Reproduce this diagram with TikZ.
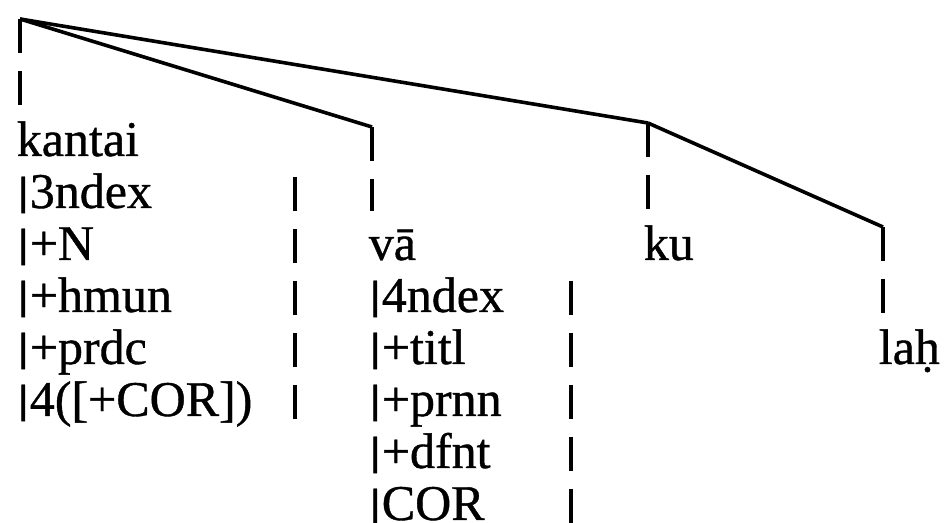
\documentclass[tikz,border=0pt]{standalone}
\usepackage{fontspec}
\setmainfont{Liberation Serif}[FakeBold=0.8]
% bar that opens a feature line, set on the baseline
\newcommand\wbar{\raisebox{0.07em}{\scalebox{1.3}[0.8]{|}}}
\begin{document}
\begin{tikzpicture}[x=0.5pt, y=-0.5pt, line width=1.8pt]

    \tikzset{%
    every word/.style={
        anchor=base west,
        inner sep=0pt,
        font=\fontsize{25}{26}\selectfont
        },
    bar line/.style={
        line width=2pt,
        dash pattern=on 17pt off 9pt
        },
    }

    \useasboundingbox (0,0) rectangle (944,523);

    % Root and the tops of the branches
    \coordinate (root) at (20,19);
    \coordinate (va-top) at (372,127);
    \coordinate (ku-top) at (648,123);
    \coordinate (lah-top) at (883,227);

    % Lower ends of the branch bars
    \coordinate (root-end) at (20,107);
    \coordinate (va-end) at (372,211);
    \coordinate (ku-end) at (648,211);
    \coordinate (lah-end) at (883,315);

    % kantai column
    \foreach \w [count=\y from 0] in {kantai,\wbar 3ndex,\wbar+N,\wbar+hmun,\wbar+prdc,{\wbar 4([+COR])}}
    \node [every word] (kantai-\y) at (15,156+52*\y) {\w};

    % va column
    \foreach \w [count=\y from 2] in {vā,\wbar 4ndex,\wbar+titl,\wbar+prnn,\wbar+dfnt,\wbar COR}
    \node [every word] (va-\y) at (367,156+52*\y) {\w};

    % ku and lah
    \node [every word] (ku) at (642,260) {ku};
    \node [every word] (lah) at (877,364) {laḥ};

    % Branches
    \draw (root) -- (va-top);
    \draw (root) -- (ku-top);
    \draw (ku-top) -- (lah-top);

    % Bars down to the words
    \draw [bar line] (root) -- (root-end);
    \draw [bar line] (va-top) -- (va-end);
    \draw [bar line] (ku-top) -- (ku-end);
    \draw [bar line] (lah-top) -- (lah-end);

    % Closing bars of the two feature blocks
    \coordinate (kantai-close) at (295,177);
    \coordinate (va-close) at (571,281);
    \draw [bar line] (kantai-close) -- ++(0,242);
    \draw [bar line] (va-close) -- ++(0,250);

\end{tikzpicture}
\end{document}
